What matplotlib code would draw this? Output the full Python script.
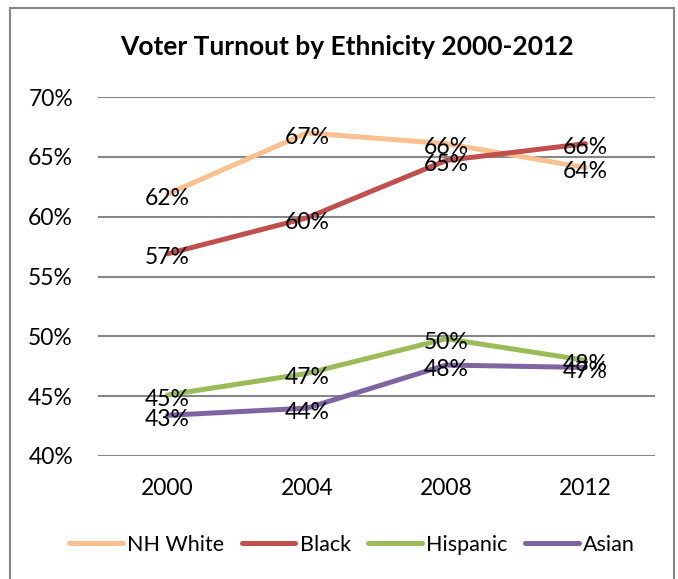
import matplotlib.pyplot as plt
import matplotlib.patches as patches
from matplotlib.ticker import FuncFormatter

plt.rcParams['font.family'] = ['Lato', 'DejaVu Sans']

years = ['2000', '2004', '2008', '2012']
nh_white = [61.9, 67.0, 66.1, 64.1]
black = [56.9, 59.9, 64.7, 66.1]
hispanic = [45.1, 46.9, 49.8, 48.0]
asian = [43.4, 44.0, 47.6, 47.4]

series = [
    ('NH White', nh_white, '#FAC090'),
    ('Black', black, '#C0504D'),
    ('Hispanic', hispanic, '#9BBB59'),
    ('Asian', asian, '#8064A2'),
]

fig = plt.figure(figsize=(6.78, 5.79), dpi=100)
ax = fig.add_axes([98 / 678, 1 - 456 / 579, 557 / 678, 359 / 579])

x = range(len(years))
for name, vals, color in series:
    ax.plot(x, vals, color=color, lw=3.6, solid_capstyle='round', label=name)
    for xi, v in zip(x, vals):
        ax.annotate(f'{round(v)}%', (xi, v), xytext=(0, -3),
                    textcoords='offset points', ha='center', va='center',
                    fontsize=16.5, color='black')

ax.set_xlim(-0.5, len(years) - 0.5)
ax.set_ylim(40, 70)
ax.set_yticks(range(40, 71, 5))
ax.yaxis.set_major_formatter(FuncFormatter(lambda v, p: f'{int(v)}%'))
ax.set_xticks(list(x))
ax.set_xticklabels(years)
ax.tick_params(axis='both', length=0, labelsize=16.5, colors='black')
ax.tick_params(axis='y', pad=18)
ax.tick_params(axis='x', pad=16)
ax.grid(axis='y', color='#868686', lw=1.5)
ax.set_axisbelow(True)
for s in ax.spines.values():
    s.set_visible(False)

fig.text(347 / 678, 1 - 47 / 579, 'Voter Turnout by Ethnicity 2000-2012',
         ha='center', va='center', fontsize=19, fontweight='bold')

fig.legend(loc='center', bbox_to_anchor=(352 / 678, 1 - 545 / 579), ncol=4,
           frameon=False, fontsize=15.5, handlelength=2.5, handletextpad=0.2,
           columnspacing=0.8)

fig.patches.append(patches.Rectangle((10 / 678, -0.02), 664 / 678, 1 - 8 / 579 + 0.02,
                                     transform=fig.transFigure, fill=False,
                                     edgecolor='#868686', lw=1.5))

fig.savefig('out.png', dpi=100)
